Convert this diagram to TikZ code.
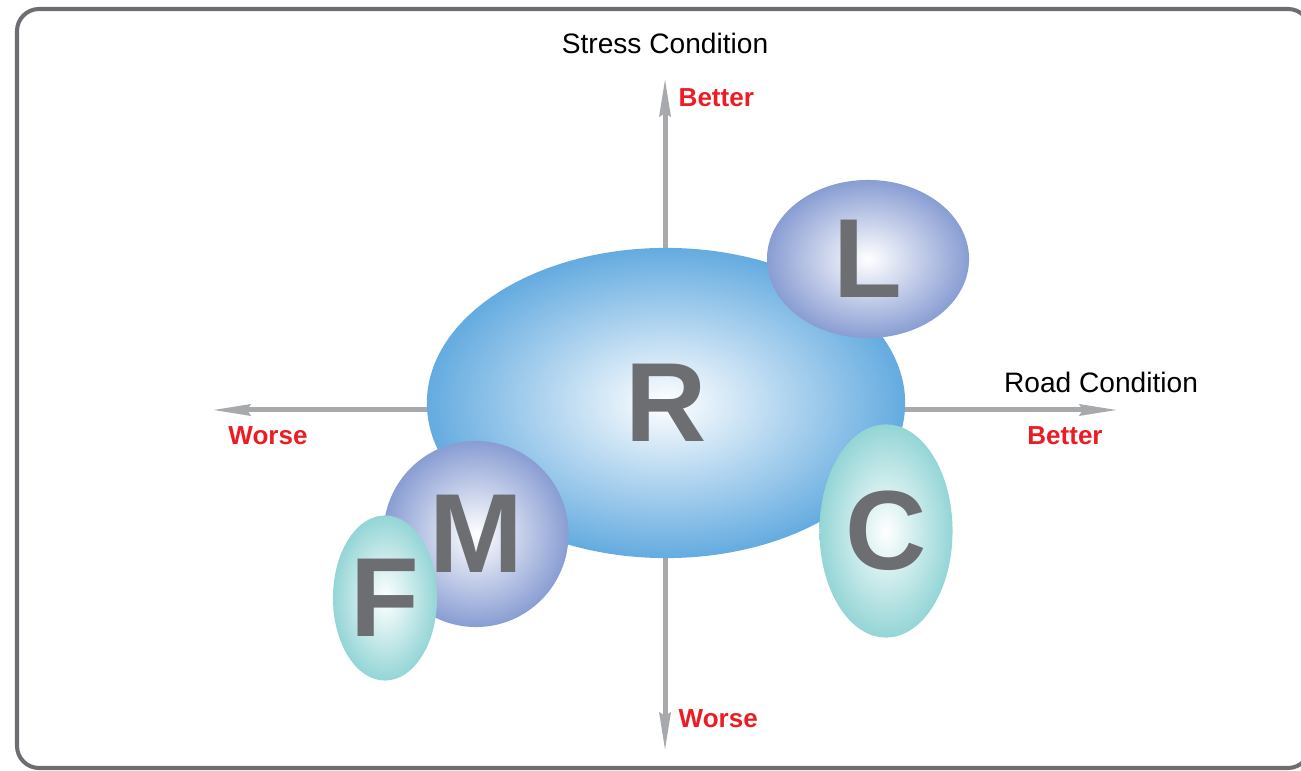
\documentclass[tikz,border=0pt]{standalone}
\usepackage{fontspec}
\setmainfont{Liberation Sans}
\usepackage{xcolor}
\usepackage{tikz}
\usetikzlibrary{shapes.geometric, arrows.meta, positioning}
\definecolor{framegray}{RGB}{109, 110, 113}
\definecolor{axisgray}{RGB}{167, 169, 172}
\definecolor{lettergray}{RGB}{109, 110, 113}
\definecolor{warnred}{RGB}{237, 28, 36}
\definecolor{roadblue}{RGB}{100, 171, 224}
\definecolor{lavblue}{RGB}{137, 157, 211}
\definecolor{tealblue}{RGB}{148, 213, 214}

\begin{document}
\begin{tikzpicture}[
    x=0.01cm, y=-0.01cm,
    frame/.style={draw=framegray, line width=1.15pt, rounded corners=0.22cm},
    axis/.style={{Stealth[length=0.38cm, width=0.11cm, inset=0.03cm]}-{Stealth[length=0.38cm, width=0.11cm, inset=0.03cm]}, line width=1.42pt, axisgray},
    blob/.style={ellipse, inner sep=0pt, inner color=white, text=lettergray, font=\fontsize{32}{32}\selectfont\bfseries},
    bigblob/.style={blob, outer color=roadblue},
    lavblob/.style={blob, outer color=lavblue},
    tealblob/.style={blob, outer color=tealblue},
    axlbl/.style={font=\fontsize{8}{9.6}\selectfont, text=black, inner sep=0pt},
    dirlbl/.style={font=\fontsize{7.4}{9}\selectfont\bfseries, text=warnred, inner sep=0pt}
]
\useasboundingbox (0,0) rectangle (1301,771);

% ── Frame ──
\draw[frame] (17,9) rectangle (1310,768);

% ── Axes ──
\coordinate (sbest) at (665,78);
\coordinate (sworst) at (665,751);
\coordinate (rworst) at (212,410);
\coordinate (rbest) at (1118,410);
\draw[axis] (sworst) -- (sbest);
\draw[axis] (rworst) -- (rbest);

% Axis labels
\node[axlbl] (stress) at (665,43) {Stress Condition};
\node[axlbl] (road) at (1101,382) {Road Condition};
\node[dirlbl, anchor=west] (stopbetter) at (678,98) {Better};
\node[dirlbl, anchor=west] (sbotworse) at (678,719) {Worse};
\node[dirlbl] (rleftworse) at (268,436) {Worse};
\node[dirlbl] (rrightbetter) at (1065,436) {Better};

% ── Ellipses ──
\node[bigblob, minimum width=4.78cm, minimum height=3.10cm] (R) at (666,403) {R};
\node[lavblob, minimum width=2.02cm, minimum height=1.58cm] (L) at (868,259) {L};
\node[tealblob, minimum width=1.33cm, minimum height=2.13cm] (C) at (886,531) {C};
\node[lavblob, minimum width=1.85cm, minimum height=1.86cm] (M) at (476,534) {M};
\node[tealblob, minimum width=1.04cm, minimum height=1.65cm] (F) at (385,598) {F};

\end{tikzpicture}
\end{document}
